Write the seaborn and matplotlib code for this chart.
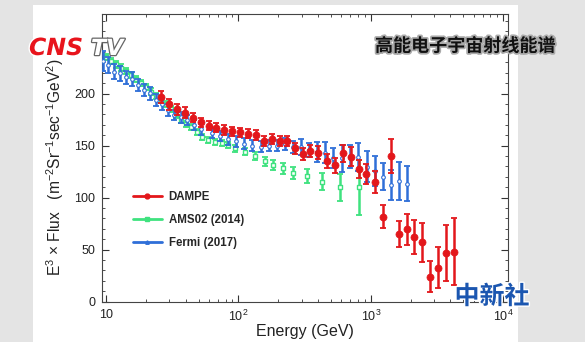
import matplotlib
matplotlib.use("Agg")
import matplotlib.pyplot as plt
import matplotlib.patheffects as pe
from matplotlib.lines import Line2D
from matplotlib.patches import Rectangle
from matplotlib.ticker import FixedLocator, LogLocator, NullFormatter, FixedFormatter
import pandas as pd
import seaborn as sns

# ---------------- data ----------------
dampe_e = [26.1, 30.0, 34.4, 39.6, 45.3, 51.8, 59.4, 68.2, 78.4, 90.1, 103.5, 119.0,
           136.8, 155.6, 178.8, 205.4, 233.3, 268.1, 308.1, 349.9, 402.1, 467.7, 537.6,
           617.9, 710.1, 815.9, 926.4, 1078, 1239, 1416, 1628, 1870, 2123, 2441, 2805,
           3224, 3705, 4258]
dampe_f = [196.6, 189.7, 184.9, 181.7, 176.8, 172.5, 169.2, 167.3, 165.0, 163.7, 162.8,
           161.4, 160.2, 154.4, 156.4, 154.4, 154.4, 147.4, 141.9, 144.8, 143.3, 135.0,
           131.1, 142.7, 139.3, 127.5, 123.0, 114.8, 81.7, 140.1, 64.7, 69.6, 61.9, 57.1,
           24.1, 32.7, 47.1, 48.0]
dampe_err = [5.5, 5.0, 5.0, 5.0, 4.5, 4.5, 4.5, 4.5, 4.5, 4.5, 4.5, 4.5, 4.5, 4.5, 4.5,
             4.5, 5.0, 5.0, 5.5, 5.5, 6.0, 6.5, 7.0, 8.0, 9.0, 9.0, 9.5, 10.5, 11.0, 16.0,
             12.5, 15.0, 16.5, 19.0, 15.0, 20.0, 27.0, 32.0]

ams_e = [10.02, 10.93, 11.92, 13.00, 14.18, 15.47, 16.88, 18.41, 20.09, 21.91, 23.90,
         26.08, 28.44, 31.03, 33.85, 36.93, 40.27, 43.93, 48.51, 53.47, 59.35, 66.68,
         74.91, 84.03, 94.43, 112.4, 133.7, 159.1, 183.8, 218.8, 260.3, 328.6, 426.6,
         586.4, 820.1]
ams_f = [235, 231, 228, 225, 222, 218, 214, 210, 206, 202, 198, 194, 190, 185, 180, 175,
         171, 168, 163.4, 158.6, 155.4, 153.7, 152.3, 150.6, 147.4, 144.1, 140.0, 135.0,
         131.4, 128.2, 124.0, 120.8, 115.3, 109.9, 109.9]
ams_err = [3, 3, 3, 3, 3, 3, 3, 3, 3, 3, 3, 3, 3, 3, 3, 3, 3, 3, 3, 3, 3, 3, 3, 3, 3.5,
           3.5, 4, 4.5, 4.5, 5.2, 5.7, 6.8, 8.3, 13.3, 26.7]

fermi_e = [9.4, 10.32, 11.46, 12.71, 14.11, 15.66, 17.39, 19.30, 21.42, 23.77, 26.39,
           29.29, 32.51, 36.47, 40.77, 46.04, 52.28, 63.31, 72.74, 83.59, 96.07, 110.4,
           127.6, 146.9, 169.1, 194.7, 224.1, 257.6, 296.0, 343.9, 395.2, 454.1, 521.9,
           603.9, 698.1, 806.2, 932.9, 1072, 1232, 1416, 1636, 1890]
fermi_f = [231.7, 227.5, 221.1, 219.5, 215.7, 213.8, 208.3, 203.4, 200.3, 193.8, 190.1,
           184.1, 179.5, 177.2, 174.6, 169.9, 165.7, 162, 159, 156, 154, 152, 150, 149,
           150, 150, 151.6, 148.4, 149.0, 145.8, 144.1, 143.3, 137.8, 137.8, 139.4, 138.8,
           129.8, 125.7, 120.2, 112.2, 116.3, 113.2]
fermi_err = [9.5, 8, 7.5, 7, 6.5, 6.5, 6, 6, 6, 5.5, 5.5, 5.5, 5, 5, 5, 5, 5, 5, 5, 5, 5,
             5, 5.5, 5.5, 5.5, 5.5, 5.7, 5.7, 7.6, 6.5, 9.7, 10.4, 9.7, 13, 11.3, 13.6,
             14.6, 14.6, 13, 14.6, 18.4, 16.8]

labels = ["DAMPE", "AMS02 (2014)", "Fermi (2017)"]
x_ticks = [10, 100, 1000, 10000]
x_ticklabels = ["10", "10$^{2}$", "10$^{3}$", "10$^{4}$"]
y_ticks = [0, 50, 100, 150, 200, 250]
y_ticklabels = ["0", "50", "100", "150", "200", ""]   # 250 is hidden under the logo

RED, GREEN, BLUE = "#e3171b", "#3fe27f", "#2f6fd8"

# ---------------- figure ----------------
sns.set_style("ticks")
plt.rcParams["font.family"] = ["Liberation Sans", "DejaVu Sans"]
plt.rcParams["mathtext.fontset"] = "custom"
plt.rcParams["mathtext.rm"] = "Liberation Sans"

W, H = 585, 342
fig = plt.figure(figsize=(W / 100, H / 100), dpi=100, facecolor="#e4e4e4")
fig.patches.append(Rectangle((33 / W, 0), 485 / W, (H - 5) / H, transform=fig.transFigure,
                             facecolor="white", edgecolor="none", zorder=-10))

ax_l, ax_r, ax_t, ax_b = 102, 508, 13.5, 301.7
ax = fig.add_axes([ax_l / W, 1 - ax_b / H, (ax_r - ax_l) / W, (ax_b - ax_t) / H])
ax.set_zorder(1)
ax.set_facecolor("white")

df_d = pd.DataFrame({"E": dampe_e, "F": dampe_f, "err": dampe_err})
df_a = pd.DataFrame({"E": ams_e, "F": ams_f, "err": ams_err})
df_f = pd.DataFrame({"E": fermi_e, "F": fermi_f, "err": fermi_err})

for df, col, z in [(df_a, GREEN, 2), (df_f, BLUE, 3), (df_d, RED, 4)]:
    ax.errorbar(df["E"], df["F"], yerr=df["err"], fmt="none", ecolor=col,
                elinewidth=1.8, capsize=2.0, capthick=1.3, zorder=z)

sns.scatterplot(data=df_a, x="E", y="F", marker="s", s=10, facecolor="white",
                edgecolor=GREEN, linewidth=1.0, ax=ax, zorder=2.5)
sns.scatterplot(data=df_f, x="E", y="F", marker="o", s=7, facecolor="white",
                edgecolor=BLUE, linewidth=0.8, ax=ax, zorder=3.5)
sns.scatterplot(data=df_d, x="E", y="F", marker="o", s=26, color=RED,
                edgecolor=RED, linewidth=0.5, ax=ax, zorder=4.5)

ax.set_xscale("log")
ax.set_xlim(9.3, 10900)
ax.set_ylim(0, 277)
ax.xaxis.set_major_locator(FixedLocator(x_ticks))
ax.xaxis.set_major_formatter(FixedFormatter(x_ticklabels))
ax.xaxis.set_minor_locator(LogLocator(base=10, subs=range(2, 10)))
ax.xaxis.set_minor_formatter(NullFormatter())
ax.yaxis.set_major_locator(FixedLocator(y_ticks))
ax.yaxis.set_major_formatter(FixedFormatter(y_ticklabels))
ax.yaxis.set_minor_locator(FixedLocator(range(0, 280, 10)))
ax.tick_params(which="both", direction="in", top=True, right=True, colors="#333333",
               labelcolor="#222222", labelsize=9, pad=5)
ax.tick_params(which="major", length=5, width=0.8)
ax.tick_params(which="minor", length=2.5, width=0.6)
for s in ax.spines.values():
    s.set_color("#444444")
    s.set_linewidth(0.8)

ax.set_xlabel("Energy (GeV)", fontsize=11.5, color="#222222", labelpad=0)
ax.set_ylabel("E$^{3}$ × Flux   (m$^{-2}$Sr$^{-1}$sec$^{-1}$GeV$^{2}$)", fontsize=11.2,
              color="#222222")
ax.yaxis.set_label_coords((66 - ax_l) / (ax_r - ax_l), 0.466)

handles = [Line2D([], [], color=RED, lw=2, marker="o", ms=3.5),
           Line2D([], [], color=GREEN, lw=2, marker="s", ms=2.5),
           Line2D([], [], color=BLUE, lw=2, marker="^", ms=2.5)]
leg = ax.legend(handles, labels, loc="upper left",
                bbox_to_anchor=((133 - ax_l) / (ax_r - ax_l), (ax_b - 191) / (ax_b - ax_t)),
                frameon=False, borderpad=0, borderaxespad=0, handlelength=2.5,
                handletextpad=0.6, labelspacing=0.95,
                prop={"weight": "bold", "size": 8.3})

# ---------------- overlays (logos / captions) ----------------
fig.text(29 / W, 1 - 55 / H, "CNS", fontsize=17, fontweight="bold", fontstyle="italic",
         color="#e8141c", family=["DejaVu Sans"],
         path_effects=[pe.withStroke(linewidth=2, foreground="white")], zorder=10)
fig.text(91 / W, 1 - 55 / H, "TV", fontsize=16, fontweight="bold", fontstyle="italic",
         color="white", family=["DejaVu Sans"],
         path_effects=[pe.withStroke(linewidth=1.8, foreground="#666666")], zorder=10)
fig.text(555 / W, 1 - 46 / H, "高能电子宇宙射线能谱", fontsize=13, fontweight="bold",
         color="#111111", ha="right", va="center",
         family=["Noto Sans CJK SC", "DejaVu Sans"],
         path_effects=[pe.withStroke(linewidth=2.5, foreground="#aaaaaa")], zorder=10)
fig.text(492 / W, 1 - 297 / H, "中新社", fontsize=18, fontweight="bold",
         color="#1b56b0", ha="center", va="center", fontstyle="italic",
         family=["Noto Sans CJK SC", "DejaVu Sans"],
         path_effects=[pe.withStroke(linewidth=2, foreground="white")], zorder=10)

fig.savefig("out.png", dpi=100, facecolor=fig.get_facecolor())
